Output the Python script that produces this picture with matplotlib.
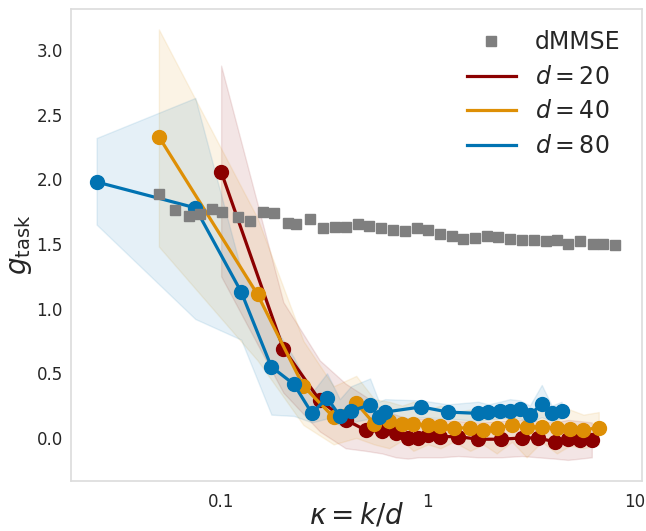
import numpy as np
import matplotlib
matplotlib.use("Agg")
import matplotlib.pyplot as plt
from matplotlib.lines import Line2D

# dMMSE baseline
kappa_mmse = [0.050, 0.0597, 0.070, 0.0789, 0.0899, 0.1005, 0.1209, 0.1387, 0.1596, 0.1805,
              0.2095, 0.2298, 0.2686, 0.3114, 0.3549, 0.4013, 0.457, 0.520, 0.590, 0.675,
              0.774, 0.882, 0.997, 1.143, 1.302, 1.482, 1.688, 1.923, 2.188, 2.493,
              2.840, 3.257, 3.724, 4.222, 4.773, 5.438, 6.26, 7.05, 8.03]
g_mmse = [1.89, 1.76, 1.72, 1.73, 1.77, 1.75, 1.71, 1.68, 1.75, 1.74,
          1.665, 1.655, 1.69, 1.625, 1.635, 1.635, 1.655, 1.64, 1.62, 1.61,
          1.60, 1.625, 1.605, 1.575, 1.565, 1.54, 1.55, 1.56, 1.555, 1.54,
          1.53, 1.53, 1.52, 1.53, 1.50, 1.52, 1.50, 1.50, 1.49]

# d = 20
kappa_20 = [0.1, 0.2, 0.3, 0.4, 0.5, 0.6, 0.7, 0.8, 0.9, 1.0,
            1.15, 1.4, 1.75, 2.25, 2.85, 3.4, 4.1, 4.75, 5.45, 6.2]
g_20 = [2.06, 0.69, 0.29, 0.14, 0.06, 0.05, 0.04, 0.0, 0.0, 0.02,
        0.01, 0.01, -0.01, -0.01, 0.0, 0.0, -0.03, -0.01, -0.015, -0.015]
lo_20 = [1.25, 0.35, 0.05, -0.08, -0.10, -0.12, -0.15, -0.16, -0.15, -0.15,
         -0.15, -0.14, -0.15, -0.15, -0.14, -0.15, -0.16, -0.17, -0.16, -0.15]
hi_20 = [2.88, 1.05, 0.60, 0.42, 0.32, 0.22, 0.18, 0.15, 0.15, 0.15,
         0.14, 0.13, 0.12, 0.13, 0.14, 0.13, 0.12, 0.14, 0.13, 0.12]

# d = 40
kappa_40 = [0.05, 0.15, 0.25, 0.35, 0.45, 0.55, 0.65, 0.75, 0.85, 1.0,
            1.15, 1.33, 1.6, 1.85, 2.15, 2.55, 3.0, 3.55, 4.2, 4.85, 5.65, 6.7]
g_40 = [2.33, 1.11, 0.40, 0.16, 0.27, 0.11, 0.13, 0.11, 0.11, 0.10,
        0.09, 0.08, 0.075, 0.06, 0.075, 0.10, 0.085, 0.085, 0.075, 0.07, 0.062, 0.08]
lo_40 = [1.48, 0.60, 0.10, -0.05, 0.0, -0.05, -0.08, -0.02, -0.10, -0.05,
         -0.08, -0.03, -0.10, -0.05, -0.12, -0.03, -0.15, -0.03, -0.12, -0.06, -0.08, -0.05]
hi_40 = [3.16, 1.70, 0.75, 0.40, 0.48, 0.30, 0.28, 0.25, 0.28, 0.22,
         0.25, 0.20, 0.22, 0.18, 0.20, 0.24, 0.20, 0.22, 0.20, 0.22, 0.18, 0.20]

# d = 80
kappa_80 = [0.025, 0.075, 0.125, 0.175, 0.225, 0.275, 0.325, 0.375, 0.425, 0.525,
            0.58, 0.62, 0.93, 1.25, 1.75, 1.96, 2.23, 2.49, 2.79, 3.11, 3.55, 3.97, 4.43]
g_80 = [1.98, 1.78, 1.13, 0.55, 0.415, 0.19, 0.31, 0.17, 0.21, 0.255,
        0.16, 0.20, 0.24, 0.20, 0.19, 0.20, 0.21, 0.21, 0.22, 0.18, 0.26, 0.19, 0.21]
lo_80 = [1.65, 0.92, 0.76, 0.18, 0.17, 0.12, 0.15, 0.10, 0.12, 0.15,
         0.10, 0.13, 0.16, 0.15, 0.13, 0.14, 0.15, 0.15, 0.15, 0.12, 0.16, 0.13, 0.15]
hi_80 = [2.32, 2.63, 1.30, 0.90, 0.62, 0.35, 0.50, 0.30, 0.40, 0.46,
         0.28, 0.30, 0.29, 0.26, 0.28, 0.26, 0.28, 0.30, 0.29, 0.25, 0.41, 0.25, 0.28]

labels = [r"$d = 20$", r"$d = 40$", r"$d = 80$"]
colors = ["#8b0000", "#de8f05", "#0173b2"]

fig = plt.figure(figsize=(6.46, 5.31), dpi=100)
ax = fig.add_axes([0.1099, 0.0942, 0.8839, 0.8889])

series = [(kappa_20, g_20, lo_20, hi_20),
          (kappa_40, g_40, lo_40, hi_40),
          (kappa_80, g_80, lo_80, hi_80)]

for (k, g, lo, hi), c in zip(series, colors):
    ax.fill_between(k, lo, hi, color=c, alpha=0.1, lw=1, zorder=1)

ax.plot(kappa_mmse, g_mmse, "s", color="#7f7f7f", ms=7.5, zorder=4)

for (k, g, lo, hi), c in zip(series, colors):
    ax.plot(k, g, "-o", color=c, lw=2.3, ms=10, zorder=3)

ax.set_xscale("log")
ax.set_xlim(0.0188, 10.84)
ax.set_ylim(-0.333, 3.318)
ax.set_xticks([0.1, 1, 10])
ax.set_xticklabels(["0.1", "1", "10"])
ax.xaxis.set_minor_locator(matplotlib.ticker.NullLocator())
ax.set_yticks([0.0, 0.5, 1.0, 1.5, 2.0, 2.5, 3.0])
ax.set_yticklabels(["0.0", "0.5", "1.0", "1.5", "2.0", "2.5", "3.0"])
ax.tick_params(axis="y", length=0, labelsize=12, colors="#262626", pad=6)
ax.tick_params(axis="x", length=0, labelsize=12, colors="#262626", pad=9)

for s in ax.spines.values():
    s.set_color("#dcdcdc")
    s.set_linewidth(1.2)

ax.set_xlabel(r"$\kappa = k/d$", fontsize=20, color="#262626", labelpad=-7)
ax.set_ylabel(r"$g_{\rm task}$", fontsize=20, color="#262626", labelpad=2)

handles = [Line2D([], [], ls="none", marker="s", color="#7f7f7f", ms=7.5)]
handles += [Line2D([], [], color=c, lw=2.3) for c in colors]
ax.legend(handles, ["dMMSE"] + labels, loc="upper right", frameon=False,
          fontsize=17, handlelength=2.1, handletextpad=0.8, labelspacing=0.45,
          borderaxespad=0.5, labelcolor="#262626")

fig.savefig("out.png", dpi=100)
